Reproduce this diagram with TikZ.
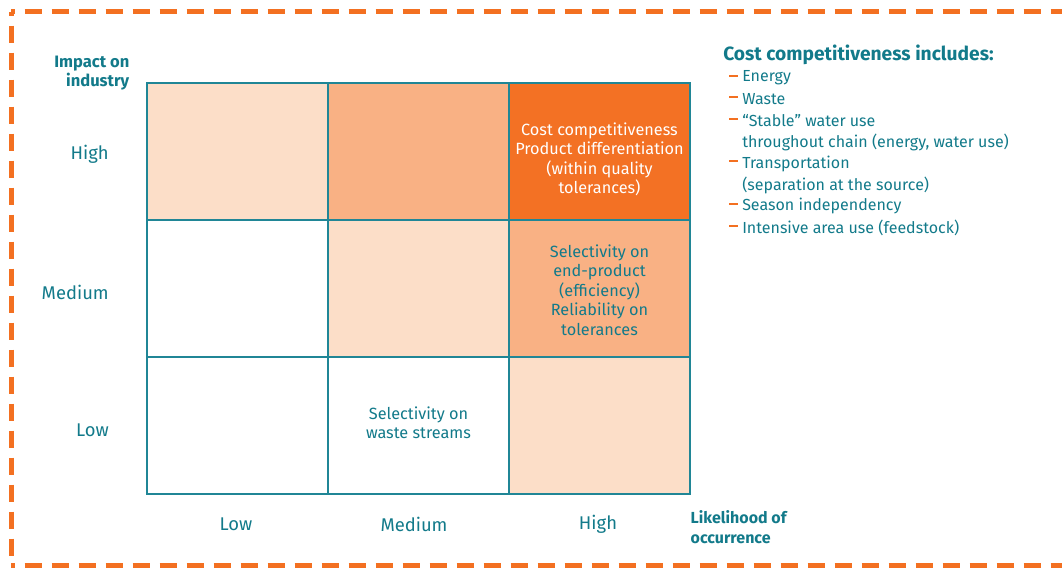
\documentclass[tikz,border=0pt]{standalone}
\usepackage{fontspec}
\setmainfont{Fira Sans}
\usetikzlibrary{positioning}
\definecolor{frameorange}{RGB}{243, 112, 33}
\definecolor{darkcell}{RGB}{243, 113, 36}
\definecolor{midcell}{RGB}{249, 177, 132}
\definecolor{lightcell}{RGB}{252, 222, 200}
\definecolor{tealtext}{RGB}{18, 122, 138}
\definecolor{gridteal}{RGB}{32, 134, 150}

\begin{document}
\begin{tikzpicture}[x=0.75pt, y=-0.75pt,
    cell/.style={draw=gridteal, line width=1.5pt, minimum width=135.75pt, minimum height=102.75pt, inner sep=0pt},
    celltext/.style={text=tealtext, align=center, font=\fontsize{12.2}{14.6}\selectfont},
    axislabel/.style={text=tealtext, font=\fontsize{13.8}{15}\selectfont},
    axistitle/.style={text=tealtext, font=\bfseries\fontsize{12}{15}\selectfont},
    legtext/.style={text=tealtext, anchor=west, inner sep=0pt, font=\fontsize{12}{14}\selectfont},
    framedash/.style={frameorange, line width=3.75pt, dash pattern=on 12.75pt off 7.5pt, dash phase=10pt}]
    \useasboundingbox (0,0) rectangle (1062,567);
    % Dashed frame
    \draw[framedash] (11,12) -- (1080,12);
    \draw[framedash] (11,12) -- (11,565);
    \draw[framedash] (11,565) -- (1080,565);
    % Matrix cells
    \node[cell, fill=lightcell] (hl) at (237.5,151.5) {};
    \node[cell, fill=midcell]   (hm) at (418.5,151.5) {};
    \node[cell, fill=darkcell]  (hh) at (599.5,151.5) {};
    \node[cell, fill=white]     (ml) at (237.5,288.5) {};
    \node[cell, fill=lightcell] (mm) at (418.5,288.5) {};
    \node[cell, fill=midcell]   (mh) at (599.5,288.5) {};
    \node[cell, fill=white]     (ll) at (237.5,425.5) {};
    \node[cell, fill=white]     (lm) at (418.5,425.5) {};
    \node[cell, fill=lightcell] (lh) at (599.5,425.5) {};
    % Cell texts
    \node[celltext, text=white] (costtxt) at ([yshift=-6pt]hh.center)
        {Cost competitiveness\\Product differentiation\\(within quality\\tolerances)};
    \node[celltext] (seltxt) at ([yshift=-1pt]mh.center)
        {Selectivity on\\end-product\\(efficiency)\\Reliability on\\tolerances};
    \node[celltext] (wastetxt) at ([yshift=2pt]lm.center) {Selectivity on\\waste streams};
    % Axes
    \node[axistitle, align=right, anchor=east, font=\bfseries\fontsize{12.4}{14.5}\selectfont] (impact) at (134,73) {Impact on\\industry};
    \node[axislabel, anchor=east, inner xsep=0pt] (rowhigh) at (109,154) {High};
    \node[axislabel, anchor=east, inner xsep=0pt] (rowmed)  at (109,292) {Medium};
    \node[axislabel, anchor=east, inner xsep=0pt] (rowlow)  at (109,430) {Low};
    \node[axislabel] (collow)  at (236,524) {Low};
    \node[axislabel] (colmed)  at (414,524) {Medium};
    \node[axislabel] (colhigh) at (598,524) {High};
    \node[axistitle, align=left, anchor=west] (likely) at (686,527) {Likelihood of\\occurrence};
    % Legend
    \node[axistitle, anchor=west, inner sep=0pt, font=\bfseries\fontsize{14.4}{15}\selectfont] (legtitle) at (723,55) {Cost competitiveness includes:};
    \foreach \n/\d/\txt in {1/1/Energy, 2/1/Waste, 3/1/{“Stable” water use},
        4/0/{throughout chain (energy, water use)}, 5/1/Transportation,
        6/0/{(separation at the source)}, 7/1/Season independency,
        8/1/{Intensive area use (feedstock)}} {
      \node[legtext] (leg\n) at (742,78+21.4*\n-21.4) {\txt};
      \ifnum\d=1
        \node[legtext, anchor=east, text=frameorange] (dash\n) at (738,78+21.4*\n-21.4) {\rule[0.28em]{6.5pt}{1.5pt}};
      \fi
    }
\end{tikzpicture}
\end{document}
